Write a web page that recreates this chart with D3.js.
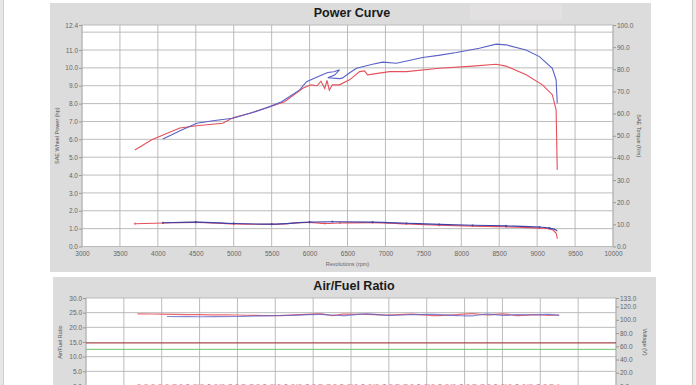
<!DOCTYPE html>
<html>
<head>
<meta charset="utf-8">
<script src="https://cdn.jsdelivr.net/npm/d3@7"></script>
<style>
  body { margin: 0; background: #fff; }
  svg { display: block; font-family: "Liberation Sans", Arial, sans-serif; }
</style>
</head>
<body>
<div id="chart"></div>
<script>
// ---- data ----
const rpmTicks = [3000, 3500, 4000, 4500, 5000, 5500, 6000, 6500, 7000, 7500, 8000, 8500, 9000, 9500, 10000];
const powerTicks = [0, 1, 2, 3, 4, 5, 6, 7, 8, 9, 10, 11, 12.4];
const powerGrid = [1, 2, 3, 4, 5, 6, 7, 8, 9, 10, 11, 12];
const torqueTicks = [0, 10, 20, 30, 40, 50, 60, 70, 80, 90, 100];
const afrTicks = [0, 5, 10, 15, 20, 25, 30];
const afrGrid = [5, 10, 20, 25];
const voltTicks = [0, 20, 40, 60, 80, 100, 120, 133];
const afrRefs = [14.7, 12.5];
const afrMarkerRpm = 8300;

// power (hp) [rpm, value]
const powerRun1 = [[4066, 6.02], [4300, 6.5], [4513, 6.9], [4750, 7.05], [4987, 7.18], [5250, 7.5], [5474, 7.83],
  [5632, 8.1], [5870, 8.77], [5960, 9.23], [6130, 9.55], [6240, 9.74], [6320, 9.78], [6395, 9.89],
  [6330, 9.6], [6240, 9.45], [6400, 9.4], [6435, 9.44], [6520, 9.7], [6618, 9.98], [6830, 10.2],
  [6963, 10.32], [7145, 10.26], [7490, 10.58], [7700, 10.7], [7935, 10.86], [8237, 11.1], [8460, 11.33],
  [8590, 11.29], [8853, 11.0], [9030, 10.63], [9200, 9.98], [9250, 9.33], [9265, 8.02]];
const powerRun2 = [[3697, 5.4], [3920, 5.97], [4100, 6.3], [4290, 6.63], [4513, 6.76], [4856, 6.9], [4990, 7.2],
  [5200, 7.45], [5430, 7.75], [5670, 8.1], [5910, 8.86], [6020, 9.05], [6100, 9.0], [6150, 9.25], [6200, 8.85],
  [6230, 9.3], [6260, 8.75], [6300, 9.05], [6395, 9.05], [6527, 9.33], [6660, 9.79], [6724, 9.83], [6766, 9.61],
  [7053, 9.79], [7276, 9.79], [7710, 9.98], [8150, 10.1], [8460, 10.2], [8590, 10.1], [8855, 9.61], [9070, 9.05],
  [9200, 8.5], [9250, 7.65], [9265, 4.29]];

// torque (Nm) [rpm, value]
const torqueRun1 = [[4066, 10.7], [4500, 11.0], [5000, 10.4], [5500, 10.1], [6000, 11.0], [6300, 11.2], [6830, 11.0],
  [7276, 10.5], [7710, 10.0], [8150, 9.6], [8590, 9.3], [9030, 8.8], [9160, 8.3], [9250, 7.5], [9265, 6.9]];
const torqueRun2 = [[3697, 10.3], [4066, 10.6], [4500, 10.9], [5000, 10.2], [5500, 10.0], [6000, 10.9], [6200, 10.4],
  [6400, 10.6], [6830, 10.8], [7276, 10.2], [7710, 9.6], [8150, 9.2], [8590, 8.9], [9030, 8.3], [9160, 8.0],
  [9250, 6.0], [9265, 3.5]];

// air/fuel ratio [rpm, value]
const afrRun1 = [[4070, 23.7], [4500, 23.6], [5000, 23.7], [5300, 23.9], [5700, 24.1], [6100, 24.4], [6250, 24.2],
  [6400, 24.0], [6700, 24.6], [7000, 24.1], [7300, 24.3], [7600, 24.4], [7900, 24.0], [8100, 23.9], [8300, 24.5],
  [8500, 24.1], [8700, 24.3], [8900, 24.2], [9100, 24.4], [9250, 24.1]];
const afrRun2 = [[3680, 24.6], [4000, 24.5], [4500, 24.3], [5000, 24.2], [5500, 24.0], [5800, 24.3], [6100, 24.6],
  [6250, 24.0], [6400, 24.5], [6700, 24.4], [7000, 24.2], [7300, 24.5], [7600, 24.0], [7900, 24.3], [8100, 24.7],
  [8300, 24.2], [8500, 24.6], [8700, 24.0], [8900, 24.3], [9100, 24.1], [9250, 24.2]];
// voltage trace near zero [rpm, value]
const voltRun1 = [[4070, 1.2], [9250, 1.2]];
const voltRun2 = [[3680, 1.5], [9250, 1.5]];

const blue = "#5a60c8";
const red = "#e5505a";
const darkBlue = "#3c43a8";

const svg = d3.select("#chart").append("svg")
  .attr("width", 696).attr("height", 385);

// page edges of the photo
svg.append("rect").attr("x", 0).attr("y", 0).attr("width", 3).attr("height", 385).attr("fill", "#e6e6e6");
svg.append("line").attr("x1", 3.5).attr("x2", 3.5).attr("y1", 0).attr("y2", 385).attr("stroke", "#cfcfcf");
svg.append("rect").attr("x", 693).attr("y", 0).attr("width", 3).attr("height", 385).attr("fill", "#ececec");
svg.append("line").attr("x1", 692.5).attr("x2", 692.5).attr("y1", 0).attr("y2", 385).attr("stroke", "#c8c8c8");

function drawPanel(cfg) {
  const g = svg.append("g");
  g.append("rect").attr("x", cfg.panel[0]).attr("y", cfg.panel[1])
    .attr("width", cfg.panel[2]).attr("height", cfg.panel[3]).attr("fill", "#dcdcdc");
  if (cfg.glare) {
    g.append("rect").attr("x", cfg.glare[0]).attr("y", cfg.glare[1])
      .attr("width", cfg.glare[2]).attr("height", cfg.glare[3]).attr("fill", "#e3e0e1");
  }
  g.append("text").attr("x", cfg.titleX).attr("y", cfg.titleY)
    .attr("text-anchor", "middle").attr("font-weight", "bold").attr("font-size", 12.5)
    .attr("fill", "#1a1a1a").text(cfg.title);

  const x = d3.scaleLinear().domain([3000, 10000]).range(cfg.xRange);
  const yL = d3.scaleLinear().domain(cfg.yLDomain).range(cfg.yRange);
  const yR = d3.scaleLinear().domain(cfg.yRDomain).range(cfg.yRange);
  const [x0, x1] = cfg.xRange;
  const [yb, yt] = cfg.yRange;

  g.append("rect").attr("x", x0).attr("y", yt).attr("width", x1 - x0).attr("height", yb - yt)
    .attr("fill", "#fff");

  // grid
  g.selectAll(null).data(cfg.gridY).join("line")
    .attr("x1", x0).attr("x2", x1).attr("y1", d => yL(d)).attr("y2", d => yL(d))
    .attr("stroke", "#b4b4b4").attr("stroke-width", 0.9);
  g.selectAll(null).data(cfg.gridX).join("line")
    .attr("x1", d => x(d)).attr("x2", d => x(d)).attr("y1", yt).attr("y2", yb)
    .attr("stroke", "#b4b4b4").attr("stroke-width", 0.9);
  g.append("rect").attr("x", x0).attr("y", yt).attr("width", x1 - x0).attr("height", yb - yt)
    .attr("fill", "none").attr("stroke", "#b4b4b4").attr("stroke-width", 0.9);

  if (cfg.extra) cfg.extra(g, x, yL, yR);

  // axes
  const fmt = d3.format(".1f");
  const styleAxis = a => {
    a.select(".domain").remove();
    a.selectAll("line").attr("stroke", "#999");
    a.selectAll("text").attr("fill", "#666").attr("font-size", 6.5).attr("font-family", "Liberation Sans, Arial");
  };
  g.append("g").attr("transform", `translate(${x0},0)`)
    .call(d3.axisLeft(yL).tickValues(cfg.yLTicks).tickFormat(fmt).tickSize(3).tickPadding(1))
    .call(styleAxis);
  g.append("g").attr("transform", `translate(${x1},0)`)
    .call(d3.axisRight(yR).tickValues(cfg.yRTicks).tickFormat(fmt).tickSize(3).tickPadding(1))
    .call(styleAxis);
  if (cfg.showX) {
    g.append("g").attr("transform", `translate(0,${yb})`)
      .call(d3.axisBottom(x).tickValues(rpmTicks).tickFormat(d3.format("d")).tickSize(0).tickPadding(5))
      .call(styleAxis);
    g.append("text").attr("x", (x0 + x1) / 2).attr("y", yb + 19).attr("text-anchor", "middle")
      .attr("font-size", 5.5).attr("fill", "#666").text("Revolutions (rpm)");
  }
  g.append("text").attr("transform", `translate(${cfg.leftLabelX},${(yb + yt) / 2}) rotate(-90)`)
    .attr("text-anchor", "middle").attr("font-size", 5.5).attr("fill", "#555").text(cfg.leftLabel);
  g.append("text").attr("transform", `translate(${cfg.rightLabelX},${(yb + yt) / 2}) rotate(90)`)
    .attr("text-anchor", "middle").attr("font-size", 5.5).attr("fill", "#555").text(cfg.rightLabel);

  return { g, x, yL, yR };
}

// ---- Power Curve ----
const powerPanel = drawPanel({
  panel: [50, 3, 601, 269], glare: [470, 4, 92, 16],
  title: "Power Curve", titleX: 352, titleY: 17,
  xRange: [82, 613], yRange: [246.5, 25],
  yLDomain: [0, 12.4], yRDomain: [0, 100],
  yLTicks: powerTicks, yRTicks: torqueTicks,
  gridY: powerGrid, gridX: rpmTicks,
  showX: true,
  leftLabel: "SAE Wheel Power (hp)", leftLabelX: 59,
  rightLabel: "SAE Torque (Nm)", rightLabelX: 637
});

const linePow = d3.line().x(d => powerPanel.x(d[0])).y(d => powerPanel.yL(d[1]));
const lineTq = d3.line().x(d => powerPanel.x(d[0])).y(d => powerPanel.yR(d[1])).curve(d3.curveMonotoneX);
powerPanel.g.append("path").attr("d", linePow(powerRun2)).attr("fill", "none").attr("stroke", red).attr("stroke-width", 1.1);
powerPanel.g.append("path").attr("d", linePow(powerRun1)).attr("fill", "none").attr("stroke", blue).attr("stroke-width", 1.1);
[[torqueRun2, red], [torqueRun1, darkBlue]].forEach(([data, c]) => {
  powerPanel.g.append("path").attr("d", lineTq(data)).attr("fill", "none").attr("stroke", c).attr("stroke-width", 1.1);
  powerPanel.g.selectAll(null).data(data.slice(0, -2)).join("circle")
    .attr("cx", d => powerPanel.x(d[0])).attr("cy", d => powerPanel.yR(d[1])).attr("r", 1.1)
    .attr("fill", c).attr("opacity", 0.7);
});

// ---- Air/Fuel Ratio ----
const afrPanel = drawPanel({
  panel: [53, 277, 603, 120],
  title: "Air/Fuel Ratio", titleX: 354, titleY: 290,
  xRange: [86, 616], yRange: [386, 298],
  yLDomain: [0, 30], yRDomain: [0, 133],
  yLTicks: afrTicks, yRTicks: voltTicks,
  gridY: afrGrid, gridX: rpmTicks,
  showX: false,
  leftLabel: "Air/Fuel Ratio", leftLabelX: 62,
  rightLabel: "Voltage (V)", rightLabelX: 643,
  extra: (g, x, yL) => {
    g.append("line").attr("x1", x(afrMarkerRpm)).attr("x2", x(afrMarkerRpm))
      .attr("y1", 298).attr("y2", 386).attr("stroke", "#b4b4b4").attr("stroke-width", 0.9);
    g.append("line").attr("x1", 86).attr("x2", 616).attr("y1", yL(afrRefs[0])).attr("y2", yL(afrRefs[0]))
      .attr("stroke", "#a8484c").attr("stroke-width", 1.1);
    g.append("line").attr("x1", 86).attr("x2", 616).attr("y1", yL(afrRefs[1])).attr("y2", yL(afrRefs[1]))
      .attr("stroke", "#6cc46c").attr("stroke-width", 1);
  }
});

const lineAfr = d3.line().x(d => afrPanel.x(d[0])).y(d => afrPanel.yL(d[1])).curve(d3.curveCatmullRom);
afrPanel.g.append("path").attr("d", lineAfr(afrRun2)).attr("fill", "none").attr("stroke", red).attr("stroke-width", 1.2).attr("opacity", 0.85);
afrPanel.g.append("path").attr("d", lineAfr(afrRun1)).attr("fill", "none").attr("stroke", blue).attr("stroke-width", 1.2).attr("opacity", 0.75);
const lineVolt = d3.line().x(d => afrPanel.x(d[0])).y(d => afrPanel.yR(d[1]));
afrPanel.g.append("path").attr("d", lineVolt(voltRun2)).attr("fill", "none").attr("stroke", red)
  .attr("stroke-width", 1).attr("stroke-dasharray", "3 4");
afrPanel.g.append("path").attr("d", lineVolt(voltRun1)).attr("fill", "none").attr("stroke", blue)
  .attr("stroke-width", 1).attr("stroke-dasharray", "2 9").attr("stroke-dashoffset", 3);
</script>
</body>
</html>
